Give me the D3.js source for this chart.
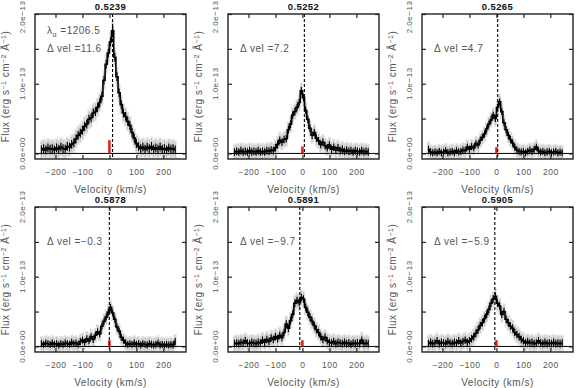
<!DOCTYPE html>
<meta charset="utf-8">
<style>
  body { margin: 0; background: #fff; }
  text { font-family: "Liberation Sans", Arial, sans-serif; fill: #555; }
  .title { fill: #111; font-weight: bold; }
  .lbl { letter-spacing: 0.5px; }
</style>
<svg width="581" height="388"></svg>
<script src="https://d3js.org/d3.v7.min.js"></script>
<script>

// velocity bins (km/s), shared by all panels
var velocity = [-252,-244,-236,-228,-220,-212,-204,-196,-188,-180,-172,-164,-156,-148,-140,-132,-124,-116,-108,-100,
  -92,-84,-76,-68,-60,-52,-44,-36,-28,-20,-12,-4,4,12,20,28,36,44,52,60,68,76,84,92,100,108,116,124,132,140,
  148,156,164,172,180,188,196,204,212,220,228,236,244];

// flux in units of 1e-14 erg s-1 cm-2 A-1
var flux5239 = [0.5,0.7,0.5,0.8,0.6,0.7,0.5,0.8,0.6,0.9,0.7,0.6,1.0,0.9,1.3,1.5,2.1,2.6,2.9,3.3,
  3.9,4.2,4.9,5.1,5.8,6.0,6.6,7.3,8.2,10.5,12.8,14.4,16.0,17.6,13.8,11.0,8.7,7.0,5.8,5.3,4.6,4.0,3.0,2.2,1.4,1.0,0.7,0.9,0.6,0.9,
  0.7,1.0,0.6,0.8,0.6,0.9,0.6,0.7,0.5,0.8,0.6,0.7,0.5];
var flux5252 = [0.2,0.3,0.2,0.4,0.2,0.3,0.2,0.4,0.2,0.3,0.2,0.4,0.2,0.3,0.2,0.4,0.3,0.5,0.4,0.8,
  1.3,1.9,1.6,2.0,2.1,3.4,4.2,5.5,6.0,6.6,7.3,9.0,8.0,6.2,4.9,3.6,2.6,3.0,2.2,1.8,1.3,1.6,1.1,0.8,1.2,0.6,0.9,0.5,0.8,0.4,
  0.6,0.3,0.5,0.3,0.4,0.2,0.4,0.3,0.2,0.4,0.2,0.3,0.2];
var flux5265 = [0.6,0.2,0.1,0.2,0.1,0.3,0.1,0.2,0.4,0.1,0.2,0.3,0.1,0.4,0.2,0.3,0.5,0.4,0.9,0.6,
  1.0,0.8,1.4,1.2,1.9,2.3,2.8,3.5,4.2,4.8,5.5,5.0,6.6,7.4,6.0,4.4,3.4,2.6,2.0,1.5,0.9,0.5,0.3,0.2,0.3,0.1,0.3,0.5,0.3,0.6,
  0.9,0.4,0.2,0.3,0.1,0.2,0.3,0.1,0.2,0.3,0.1,0.2,0.1];
var flux5878 = [0.4,0.3,0.5,0.4,0.3,0.5,0.3,0.4,0.2,0.4,0.3,0.5,0.4,0.3,0.6,0.4,0.5,0.3,0.7,0.9,
  0.6,1.1,0.8,1.4,1.0,1.6,2.1,1.8,2.9,3.6,4.2,4.9,5.6,4.8,3.9,2.8,2.2,1.3,0.9,0.5,0.3,0.4,0.3,0.5,0.3,0.4,0.2,0.4,0.3,0.2,
  0.4,0.3,0.2,0.3,0.5,0.2,0.3,0.2,0.3,0.2,0.3,0.2,0.7];
var flux5891 = [0.4,0.5,0.4,0.6,0.5,0.8,0.5,0.4,0.6,0.5,0.4,0.6,0.5,0.9,0.6,1.0,0.7,1.2,1.0,1.4,
  1.1,1.6,1.3,2.0,3.2,2.6,3.7,4.6,6.2,6.6,6.3,7.0,6.8,5.6,4.9,4.2,3.6,3.0,2.4,2.0,1.4,1.0,1.3,0.8,0.6,0.5,0.7,0.4,0.6,0.5,
  0.4,0.6,0.4,0.5,0.3,0.5,0.4,0.5,0.4,0.9,0.4,0.5,0.4];
var flux5905 = [0.4,0.6,0.4,0.5,0.8,0.4,0.6,0.5,0.4,0.7,0.5,0.4,0.6,0.5,0.8,0.5,0.7,0.9,0.6,0.8,
  1.1,1.4,1.9,2.4,3.0,3.4,4.0,4.6,5.3,6.2,6.8,7.2,6.2,5.8,4.6,5.0,3.9,3.4,2.9,2.6,2.0,1.7,1.4,1.0,0.8,0.5,0.7,0.5,0.6,0.4,
  0.5,0.8,0.5,0.4,0.6,0.4,0.5,0.4,0.6,0.4,0.5,0.4,0.5];

var titles = ["0.5239", "0.5252", "0.5265", "0.5878", "0.5891", "0.5905"];
var dvel = [11.6, 7.2, 4.7, -0.3, -9.7, -5.9];
var fluxes = [flux5239, flux5252, flux5265, flux5878, flux5891, flux5905];
var errs = [1.4, 1.2, 1.1, 1.1, 1.2, 1.2];      // typical 1-sigma error (1e-14)
var redBar = [1.9, 1.0, 0.9, 0.9, 0.9, 0.9];    // marker height at v=0 (1e-14)
var xTicks = [-200, -100, 0, 100, 200];
var yTicks = [0, 5, 10, 15, 20];
var yLabels = {0: "0.0e+00", 10: "1.0e\u221213", 20: "2.0e\u221213"};

var svg = d3.select("svg"),
    colLeft = [35, 228, 422],
    rowTop = [14, 207],
    width = 151,
    height = 145;

var x = d3.scaleLinear().domain([-276, 284]).range([0, width]);
var y = d3.scaleLinear().domain([-0.8, 20]).range([height, 0]);

var step = d3.line()
    .curve(d3.curveStep)
    .x(function(d) { return x(d.v); })
    .y(function(d) { return y(d.f); });

svg.append("defs").append("clipPath").attr("id", "frame")
  .append("rect").attr("width", width).attr("height", height);

fluxes.forEach(function(fl, i) {
  var data = velocity.map(function(v, j) { return {v: v, f: fl[j]}; });
  var g = svg.append("g")
      .attr("transform", "translate(" + colLeft[i % 3] + "," + rowTop[Math.floor(i / 3)] + ")");

  var plot = g.append("g").attr("clip-path", "url(#frame)");

  // wide light error band
  plot.selectAll(".band")
    .data(data)
    .enter().append("line")
      .attr("x1", function(d) { return x(d.v); })
      .attr("x2", function(d) { return x(d.v); })
      .attr("y1", function(d) { return y(d.f - errs[i]); })
      .attr("y2", function(d) { return y(d.f + errs[i]); })
      .attr("stroke", "#e2e2e2")
      .attr("stroke-width", 3);

  // error bars (grey)
  plot.selectAll(".err")
    .data(data)
    .enter().append("line")
      .attr("x1", function(d) { return x(d.v); })
      .attr("x2", function(d) { return x(d.v); })
      .attr("y1", function(d) { return y(d.f - errs[i] * 0.8); })
      .attr("y2", function(d) { return y(d.f + errs[i] * 0.8); })
      .attr("stroke", "#bdbdbd")
      .attr("stroke-width", 1);

  // zero line
  plot.append("line")
      .attr("x1", 0).attr("x2", width)
      .attr("y1", y(0)).attr("y2", y(0))
      .attr("stroke", "#000")
      .attr("stroke-width", 1);

  // short black error ticks
  plot.selectAll(".err2")
    .data(data)
    .enter().append("line")
      .attr("x1", function(d) { return x(d.v); })
      .attr("x2", function(d) { return x(d.v); })
      .attr("y1", function(d) { return y(d.f - errs[i] * 0.45); })
      .attr("y2", function(d) { return y(d.f + errs[i] * 0.45); })
      .attr("stroke", "#000")
      .attr("stroke-width", 1.2);

  plot.append("path")
      .datum(data)
      .attr("fill", "none")
      .attr("stroke", "#000")
      .attr("stroke-width", 1.6)
      .attr("d", step);

  // red marker at zero velocity
  plot.append("line")
      .attr("x1", x(0)).attr("x2", x(0))
      .attr("y1", y(0)).attr("y2", y(redBar[i]))
      .attr("stroke", "#f01818")
      .attr("stroke-width", 2.5);

  // dashed line at velocity shift
  plot.append("line")
      .attr("x1", x(dvel[i])).attr("x2", x(dvel[i]))
      .attr("y1", 0).attr("y2", height)
      .attr("stroke", "#000")
      .attr("stroke-width", 1.1)
      .attr("stroke-dasharray", "3,2");

  // ticks on all four sides
  g.append("g")
      .attr("transform", "translate(0," + height + ")")
      .call(d3.axisBottom(x).tickValues(xTicks).tickSize(-4).tickPadding(10).tickFormat(d3.format("d")))
      .call(function(a) { a.select(".domain").remove(); a.selectAll("text").attr("font-size", 8.5).attr("class", "lbl").style("fill", "#555"); });
  g.append("g")
      .call(d3.axisTop(x).tickValues(xTicks).tickSize(-4).tickFormat(""))
      .call(function(a) { a.select(".domain").remove(); });
  g.append("g")
      .call(d3.axisLeft(y).tickValues(yTicks).tickSize(-4).tickFormat(""))
      .call(function(a) { a.select(".domain").remove(); });
  g.append("g")
      .attr("transform", "translate(" + width + ",0)")
      .call(d3.axisRight(y).tickValues(yTicks).tickSize(-4).tickFormat(""))
      .call(function(a) { a.select(".domain").remove(); });

  g.selectAll(".tick line").attr("stroke", "#222").attr("stroke-width", 1.2);

  g.append("rect")
      .attr("width", width).attr("height", height)
      .attr("fill", "none")
      .attr("stroke", "#222")
      .attr("stroke-width", 1.4);

  // rotated y tick labels (top one kept inside the page)
  yTicks.filter(function(t) { return yLabels[t]; }).forEach(function(t) {
    var cy = Math.max(y(t), 2 - rowTop[Math.floor(i / 3)] + 15);
    g.append("text")
        .attr("class", "lbl")
        .attr("transform", "translate(-10," + cy + ") rotate(-90)")
        .attr("text-anchor", "middle")
        .attr("font-size", 8)
        .text(yLabels[t]);
  });

  var ylab = g.append("text")
      .attr("class", "lbl")
      .attr("transform", "translate(-26," + (height / 2) + ") rotate(-90)")
      .attr("text-anchor", "middle")
      .attr("font-size", 10);
  ylab.append("tspan").text("Flux (erg s");
  ylab.append("tspan").attr("dy", -3).attr("font-size", 7).text("\u22121");
  ylab.append("tspan").attr("dy", 3).text(" cm");
  ylab.append("tspan").attr("dy", -3).attr("font-size", 7).text("\u22122");
  ylab.append("tspan").attr("dy", 3).text(" \u00c5");
  ylab.append("tspan").attr("dy", -3).attr("font-size", 7).text("\u22121");
  ylab.append("tspan").attr("dy", 3).text(")");

  g.append("text")
      .attr("class", "lbl")
      .attr("x", width / 2).attr("y", height + 34)
      .attr("text-anchor", "middle")
      .attr("font-size", 10)
      .text("Velocity (km/s)");

  g.append("text")
      .attr("class", "title")
      .attr("x", width / 2).attr("y", -4)
      .attr("text-anchor", "middle")
      .attr("font-size", 9.5)
      .attr("letter-spacing", 0.4)
      .text(titles[i]);

  if (i === 0) {
    var lam = g.append("text").attr("class", "lbl").attr("x", 12).attr("y", 20).attr("font-size", 10);
    lam.append("tspan").text("\u03bb");
    lam.append("tspan").attr("dy", 3).attr("font-size", 7).text("\u03b1");
    lam.append("tspan").attr("dy", -3).text(" =1206.5");
  }
  g.append("text")
      .attr("class", "lbl")
      .attr("x", 12).attr("y", 37.5)
      .attr("font-size", 10)
      .text("\u0394 vel =" + d3.format(".1f")(dvel[i]).replace("-", "\u2212"));
});
</script>
